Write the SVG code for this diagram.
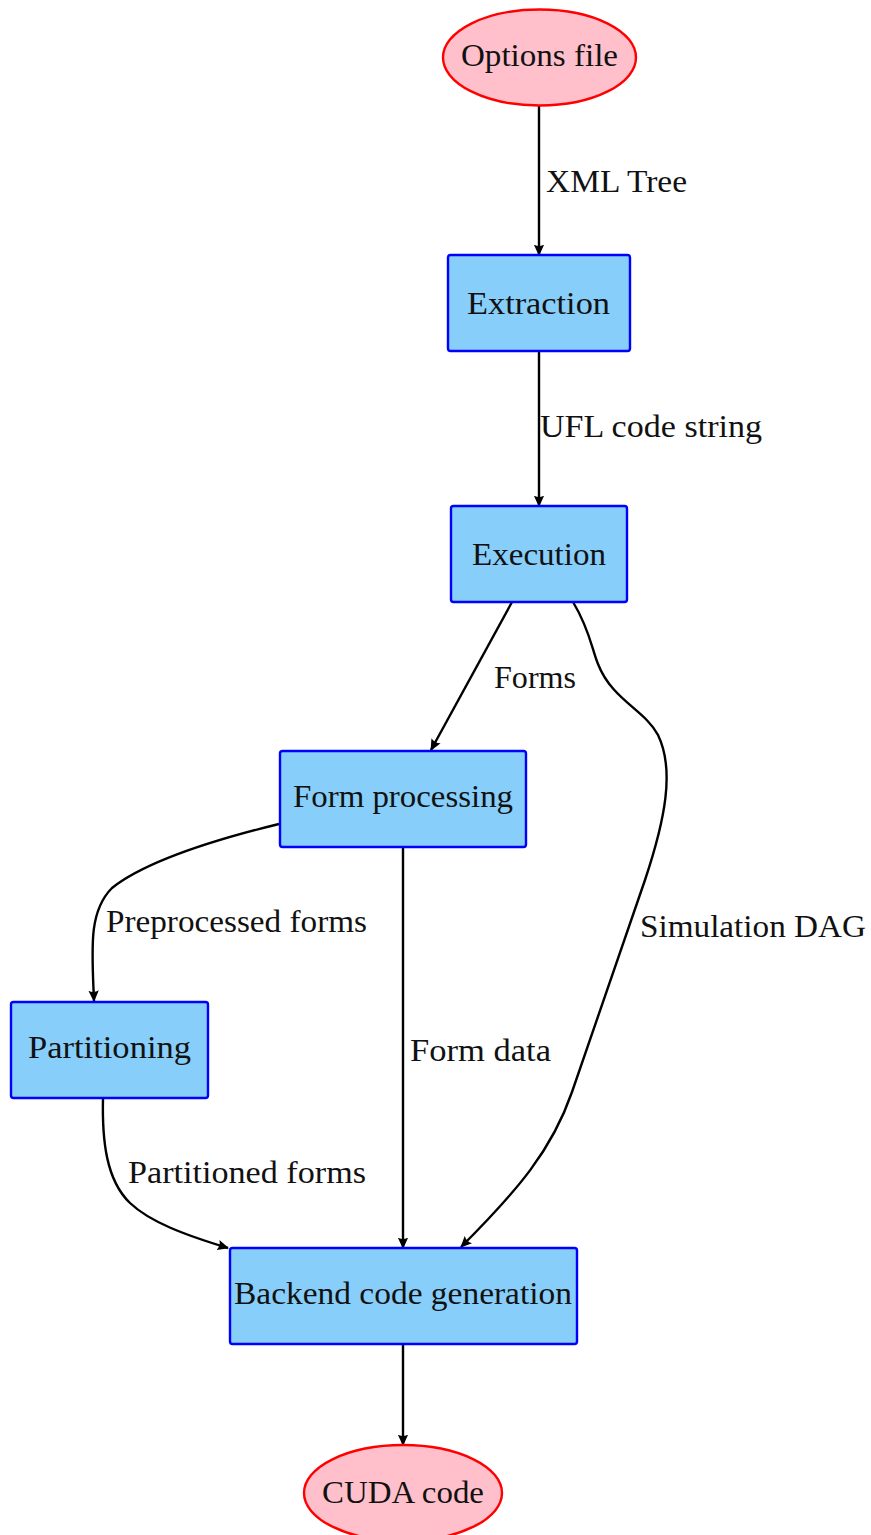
<svg xmlns="http://www.w3.org/2000/svg" width="871" height="1535" viewBox="0 0 871 1535">
  <style>
    .box { fill: #87CEFA; stroke: #0000FF; stroke-width: 2.4; }
    .term { fill: #FFC0CB; stroke: #FF0000; stroke-width: 2.4; }
    .lbl { font-family: "Liberation Serif", "DejaVu Serif", serif; font-size: 31px; fill: #111; }
    .edge { fill: none; stroke: #000; stroke-width: 2.4; marker-end: url(#head); }
  </style>
  <defs>
    <marker id="head" markerUnits="userSpaceOnUse" markerWidth="14" markerHeight="12" viewBox="0 -6 14 12" refX="10.5" refY="0" orient="auto">
      <path d="M11.5,0 L0,-5.2 Q3,0 0,5.2 Z" fill="#000"/>
    </marker>
  </defs>

  <!-- connectors -->
  <g id="connectors">
    <path class="edge" d="M539,106 L539,255"/>
    <path class="edge" d="M539,351 L539,506"/>
    <path class="edge" d="M512,602 L431,750"/>
    <path class="edge" d="M573,602 C590,630 592,650 598,664 C612,700 645,710 658,735 C675,770 665,820 645,880 L572,1092 C552,1150 518,1190 461,1247"/>
    <path class="edge" d="M279,824 C230,836 150,858 112,888 C88,912 92,950 94,1001"/>
    <path class="edge" d="M403,847 L403,1248"/>
    <path class="edge" d="M103,1098 C102,1140 106,1180 130,1203 C150,1222 185,1235 228,1248"/>
    <path class="edge" d="M403,1344 L403,1445"/>

    <text class="lbl" x="546" y="192" textLength="141" lengthAdjust="spacingAndGlyphs">XML Tree</text>
    <text class="lbl" x="540" y="437" textLength="222" lengthAdjust="spacingAndGlyphs">UFL code string</text>
    <text class="lbl" x="494" y="688" textLength="82" lengthAdjust="spacingAndGlyphs">Forms</text>
    <text class="lbl" x="106" y="932" textLength="261" lengthAdjust="spacingAndGlyphs">Preprocessed forms</text>
    <text class="lbl" x="640" y="937" textLength="226" lengthAdjust="spacingAndGlyphs">Simulation DAG</text>
    <text class="lbl" x="410" y="1061" textLength="141" lengthAdjust="spacingAndGlyphs">Form data</text>
    <text class="lbl" x="128" y="1183" textLength="238" lengthAdjust="spacingAndGlyphs">Partitioned forms</text>
  </g>

  <!-- nodes -->
  <g id="options-file">
    <ellipse class="term" cx="539.5" cy="57.5" rx="96.5" ry="48"/>
    <text class="lbl" x="461" y="66" textLength="157" lengthAdjust="spacingAndGlyphs">Options file</text>
  </g>
  <g id="extraction">
    <rect class="box" x="448" y="255" width="182" height="96" rx="2.5"/>
    <text class="lbl" x="467" y="314" textLength="143" lengthAdjust="spacingAndGlyphs">Extraction</text>
  </g>
  <g id="execution">
    <rect class="box" x="451" y="506" width="176" height="96" rx="2.5"/>
    <text class="lbl" x="472" y="565" textLength="134" lengthAdjust="spacingAndGlyphs">Execution</text>
  </g>
  <g id="form-processing">
    <rect class="box" x="280" y="751" width="246" height="96" rx="2.5"/>
    <text class="lbl" x="293" y="807" textLength="220" lengthAdjust="spacingAndGlyphs">Form processing</text>
  </g>
  <g id="partitioning">
    <rect class="box" x="11" y="1002" width="197" height="96" rx="2.5"/>
    <text class="lbl" x="28" y="1058" textLength="163" lengthAdjust="spacingAndGlyphs">Partitioning</text>
  </g>
  <g id="backend-code-generation">
    <rect class="box" x="230" y="1248" width="347" height="96" rx="2.5"/>
    <text class="lbl" x="234" y="1304" textLength="338" lengthAdjust="spacingAndGlyphs">Backend code generation</text>
  </g>
  <g id="cuda-code">
    <ellipse class="term" cx="403" cy="1493" rx="99" ry="48"/>
    <text class="lbl" x="322" y="1503" textLength="162" lengthAdjust="spacingAndGlyphs">CUDA code</text>
  </g>
</svg>
